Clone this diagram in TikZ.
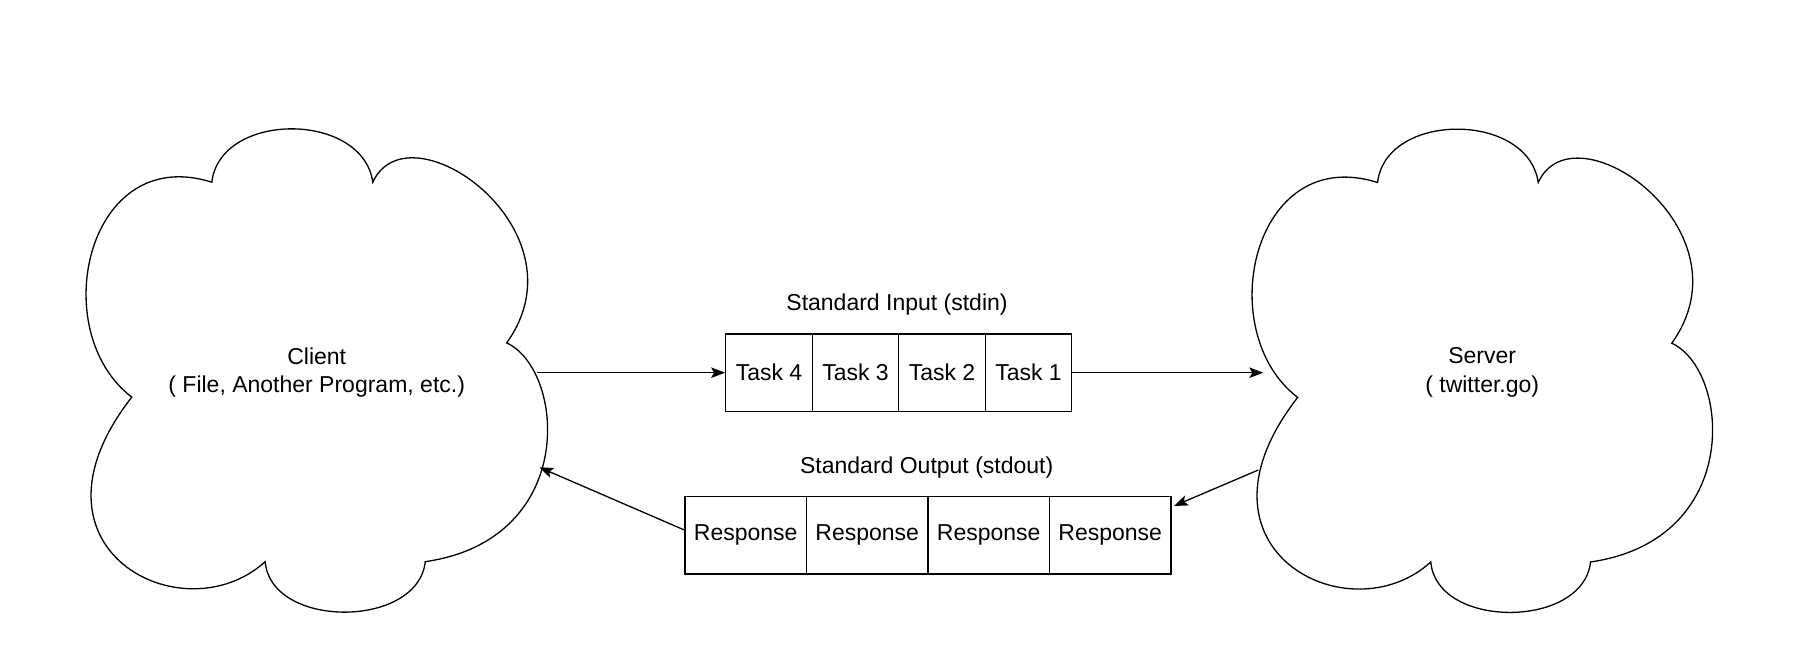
\documentclass[tikz,border=0pt]{standalone}
\usepackage{fontspec}
\setmainfont{Liberation Sans}
\usetikzlibrary{arrows.meta}
\newcommand{\cloudoutline}{%
  (0.272,0.112) .. controls (0.29,-0.035) and (0.60,-0.035) .. (0.622,0.112)
  .. controls (0.70,-0.05) and (1.09,0.21) .. (0.913,0.444)
  .. controls (1.04,0.50) and (1.07,0.85) .. (0.736,0.896)
  .. controls (0.72,1.035) and (0.40,1.035) .. (0.388,0.896)
  .. controls (0.21,1.05) and (-0.16,0.87) .. (0.098,0.556)
  .. controls (-0.09,0.42) and (0.0,0.03) .. cycle}
\tikzset{
  txt/.style={font=\fontsize{23}{28.4}\selectfont, align=center, inner sep=0pt},
  cell/.style={draw, line width=1.3pt, minimum height=77.3pt, inner sep=0pt,
    font=\fontsize{23}{28.4}\selectfont},
  taskcell/.style={cell, minimum width=86.5pt},
  respcell/.style={cell, minimum width=121.5pt},
  cloudline/.style={draw, line width=1.3pt},
  arr/.style={line width=1.3pt, -{Stealth[length=14pt,width=10.5pt,inset=3pt]}}
}
\begin{document}
\begin{tikzpicture}[x=1pt,y=-1pt]
\useasboundingbox (0,0) rectangle (1798,662);
% clouds
\begin{scope}[shift={(86.7,128)}, x=460pt, y=-484pt]
  \path[cloudline] \cloudoutline;
\end{scope}
\begin{scope}[shift={(1252.7,128.3)}, x=459pt, y=-484pt]
  \path[cloudline] \cloudoutline;
\end{scope}
\node[txt] (client) at (316.7,372.5) {Client\\( File, Another Program, etc.)};
\node[txt] (server) at (1482.2,372.5) {Server\\( twitter.go)};
% task queue
\node[taskcell] (t4) at (769,372.7) {Task 4};
\node[taskcell] (t3) at (855.5,372.7) {Task 3};
\node[taskcell] (t2) at (942,372.7) {Task 2};
\node[taskcell] (t1) at (1028.5,372.7) {Task 1};
\node[txt] (inlabel) at (897,305) {Standard Input (stdin)};
% responses
\node[respcell] (r1) at (745.75,535.3) {Response};
\node[respcell] (r2) at (867.25,535.3) {Response};
\node[respcell] (r3) at (988.75,535.3) {Response};
\node[respcell] (r4) at (1110.25,535.3) {Response};
\node[txt] (outlabel) at (926.7,468) {Standard Output (stdout)};
% connector ends on the clouds
\coordinate (clientout) at (536.7,372.7);
\coordinate (serverin) at (1263.3,372.7);
\coordinate (serverout) at (1258.3,470);
\coordinate (clientin) at (539.3,467.3);
% connectors
\draw[arr] (clientout) -- (t4.west);
\draw[arr] (t1.east) -- (serverin);
\draw[arr] (serverout) -- ([xshift=2.3pt,yshift=-10pt]r4.north east);
\draw[arr] ([yshift=5.3pt]r1.west) -- (clientin);
\end{tikzpicture}
\end{document}
